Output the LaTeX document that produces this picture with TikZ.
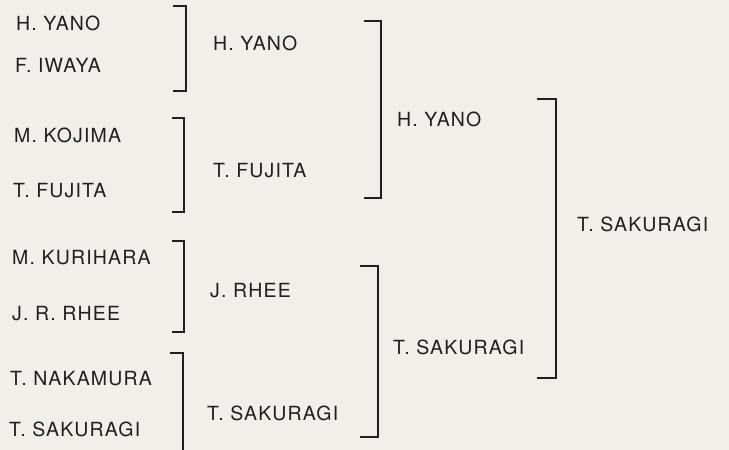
\documentclass[tikz,border=0pt]{standalone}
\usepackage{fontspec}
\setmainfont{TeX Gyre Heros}[LetterSpace=6]
\definecolor{ink}{RGB}{32,30,30}
\definecolor{paper}{RGB}{240,239,233}

\begin{document}
\begin{tikzpicture}[x=1pt,y=-1pt,
  player/.style={anchor=west,inner sep=0pt,text=ink,font=\fontsize{19.5}{21}\selectfont},
  bracket/.style={draw=ink,line width=1.2pt}]

\fill[paper] (0,0) rectangle (729,450);
\useasboundingbox (0,0) rectangle (729,450);

% first round
\node[player] (r1a) at (16,23) {H. YANO};
\node[player] (r1b) at (15,65) {F. IWAYA};
\node[player] (r1c) at (14,135) {M. KOJIMA};
\node[player] (r1d) at (13,191) {T. FUJITA};
\node[player] (r1e) at (12,258) {M. KURIHARA};
\node[player] (r1f) at (12,314) {J. R. RHEE};
\node[player] (r1g) at (10,379) {T. NAKAMURA};
\node[player] (r1h) at (9,429) {T. SAKURAGI};

% second round
\node[player] (r2a) at (213,43) {H. YANO};
\node[player] (r2b) at (213,171) {T. FUJITA};
\node[player] (r2c) at (210,291) {J. RHEE};
\node[player] (r2d) at (207,413) {T. SAKURAGI};

% semi-finals and final
\node[player] (r3a) at (397,119) {H. YANO};
\node[player] (r3b) at (393,347) {T. SAKURAGI};
\node[player] (win) at (577,224) {T. SAKURAGI};

\coordinate (b1t) at (173,6);   \coordinate (b1b) at (173,91);
\coordinate (b2t) at (172,118); \coordinate (b2b) at (172,212);
\coordinate (b3t) at (172,241); \coordinate (b3b) at (172,332);
\coordinate (b4t) at (170,353); \coordinate (b4b) at (183,450);
\coordinate (b5t) at (364,21);  \coordinate (b5b) at (364,198);
\coordinate (b6t) at (360,266); \coordinate (b6b) at (360,437);
\coordinate (b7t) at (537,99);  \coordinate (b7b) at (537,378);

\draw[bracket] (b1t) -- ++(13,0) |- (b1b);
\draw[bracket] (b2t) -- ++(12,0) |- (b2b);
\draw[bracket] (b3t) -- ++(12,0) |- (b3b);
\draw[bracket] (b4t) -- ++(13,0) -- (b4b);
\draw[bracket] (b5t) -- ++(17,0) |- (b5b);
\draw[bracket] (b6t) -- ++(18,0) |- (b6b);
\draw[bracket] (b7t) -- ++(19,0) |- (b7b);

\end{tikzpicture}
\end{document}
